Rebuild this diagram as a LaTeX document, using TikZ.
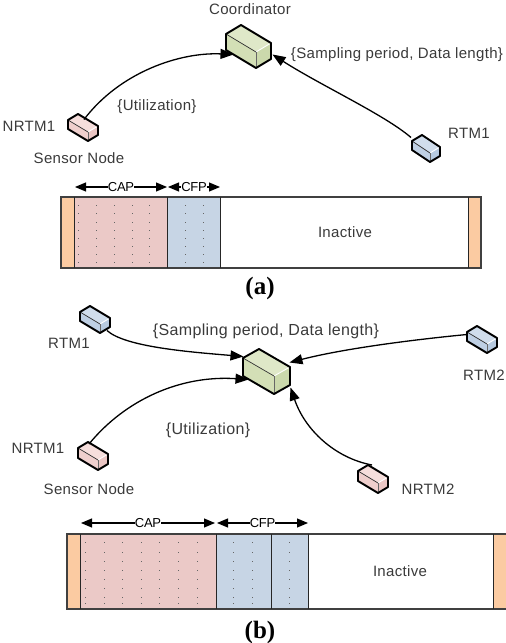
\documentclass[tikz,border=0pt]{standalone}
\usepackage{fontspec}
\setmainfont{Liberation Sans}
\newfontfamily\capfont{Liberation Serif}
\newfontfamily\wideface[LetterSpace=2.2]{Liberation Sans}
\newfontfamily\tightface[LetterSpace=-2]{Liberation Sans}
\usetikzlibrary{arrows.meta}
\definecolor{gFront}{HTML}{D3DFB6}\definecolor{gTop}{HTML}{DFE8C8}\definecolor{gSide}{HTML}{CBD9AC}
\definecolor{pFront}{HTML}{EFCFCD}\definecolor{pTop}{HTML}{F6DEDC}\definecolor{pSide}{HTML}{EBC6C4}
\definecolor{bFront}{HTML}{BFD0E4}\definecolor{bTop}{HTML}{D0DDEC}\definecolor{bSide}{HTML}{B7CAE0}
\definecolor{slotOrange}{HTML}{FBCBA2}\definecolor{slotPink}{HTML}{EBC9C7}\definecolor{slotBlue}{HTML}{C7D5E5}
\definecolor{txt}{HTML}{3A3A3A}
% \devbox{name}{colour prefix}{Fx}{Fy}{Lx dist}{Ly dist}{Rx dist}{Ry dist}{height}
\newcommand{\devbox}[9]{%
  \path[fill=#2Top] (#3,#4) -- ++(-#5,-#6) -- ++(#7,-#8) -- ++(#5,#6) -- cycle;
  \path[fill=#2Front] (#3,#4) -- ++(-#5,-#6) -- ++(0,#9) -- ++(#5,#6) -- cycle;
  \path[fill=#2Side] (#3,#4) -- ++(#7,-#8) -- ++(0,#9) -- ++(-#7,#8) -- cycle;
  \draw[white,line width=.9] (#3,#4) -- ++(#7,-#8);
  \draw[black!80,line width=.7] (#3,#4) -- ++(-#5,-#6);
  \draw[black!60,line width=.6] (#3,#4) -- ++(0,#9);
  \draw[black,line width=1.9,line join=round] (#3,#4) ++(-#5,-#6) -- ++(#7,-#8) -- ++(#5,#6) -- ++(0,#9) -- ++(-#7,#8) -- ++(-#5,-#6) -- cycle;
  \node[inner sep=0,minimum width={(#5+#7)*1pt},minimum height={(#6+#8+#9)*1pt}] (#1) at ({#3+(#7-#5)/2},{#4+(#9-#6-#8)/2}) {};
}
\newcommand{\dotgrid}[2]{\foreach \xx in {#1}{\foreach \yy in {#2}{\fill[black!60] (\xx-.5,\yy-.5) rectangle (\xx+.5,\yy+.5);}}}
\tikzset{
  lbl/.style={font=\wideface\fontsize{15}{17}\selectfont,text=txt,inner sep=0},
  lblbig/.style={lbl,font=\wideface\fontsize{16}{18}\selectfont},
  figcap/.style={font=\capfont\bfseries\fontsize{25}{27}\selectfont,inner sep=0},
  link/.style={black,line width=1.3,-{Triangle[length=13pt,width=10pt]}},
  spanline/.style={black,line width=1.1,{Triangle[length=11pt,width=9pt]}-{Triangle[length=11pt,width=9pt]}},
  spanlbl/.style={font=\tightface\fontsize{13}{14}\selectfont,text=black,fill=white,inner xsep=0pt,inner ysep=0},
  outline/.style={draw=black!75,line width=1.1},
  slotline/.style={draw=black!85,line width=1}
}
\begin{document}
\begin{tikzpicture}[x=1pt,y=-1pt]
\useasboundingbox (0,0) rectangle (506,643);
% ---------- (a)
\devbox{cA}{g}{256}{52}{30}{18}{15}{9}{16}
\devbox{nA}{p}{88}{132}{20}{12}{10}{6}{9}
\devbox{rA}{b}{430}{153}{18}{12}{10}{6}{9}
\draw[link] ([shift={(1,-8)}]nA.center) .. controls (120,72) and (180,52) .. ([shift={(-15,8)}]cA.center);
\draw[link] ([shift={(-15,-11)}]rA.center) .. controls (385,115) and (320,85) .. ([shift={(24,8)}]cA.center);
\node[lbl] (tCoordA) at (250,9) {Coordinator};
\node[lbl] (tSamplA) at (397,55) {\{Sampling period, Data length\}};
\node[lbl] (tUtilA) at (157,107) {\{Utilization\}};
\node[lbl] (tNA) at (29,126) {NRTM1};
\node[lbl] (tSensA) at (79,158) {Sensor Node};
\node[lbl] (tRA) at (469,133) {RTM1};
% frame a
\fill[slotOrange] (61,197) rectangle (74,268);
\fill[slotOrange] (468,197) rectangle (481,268);
\fill[slotPink] (74,197) rectangle (167,268);
\fill[slotBlue] (167,197) rectangle (220,268);
\dotgrid{78,96,114,132,149,185,203}{197,205,213,222,230,238,246,254,262}
\draw[outline] (61,197) rectangle (481,268);
\draw[slotline] (74,197) -- (74,268) (167,197) -- (167,268) (220,197) -- (220,268) (468,197) -- (468,268);
\node[lbl] (tInA) at (345,232) {Inactive};
\coordinate (caL) at (75,187); \coordinate (caR) at (167,187); \coordinate (cfL) at (168,187); \coordinate (cfR) at (220,187);
\draw[spanline] (caL) -- (caR) node[midway,spanlbl] (tCapA) {CAP};
\draw[spanline] (cfL) -- (cfR) node[midway,spanlbl] (tCfpA) {CFP};
\node[figcap] (capA) at (260,288) {(a)};
% ---------- (b)
\devbox{cB}{g}{274}{376}{31}{18}{16}{9}{18}
\devbox{rB1}{b}{100}{324}{20}{12}{10}{6}{9}
\devbox{rB2}{b}{487}{344}{20}{12}{10}{6}{9}
\devbox{nB1}{p}{98}{460}{20}{12}{10}{6}{10}
\devbox{nB2}{p}{378}{483}{20}{12}{10}{6}{10}
\draw[link] ([shift={(12,11)}]rB1.center) .. controls (125,347) and (190,352) .. ([shift={(-23,-15)}]cB.center);
\draw[link] ([shift={(-15,-5)}]rB2.center) .. controls (430,338) and (350,347) .. ([shift={(23,-9)}]cB.center);
\draw[link] ([shift={(-4,-12)}]nB1.center) .. controls (125,400) and (180,375) .. ([shift={(-18,8)}]cB.center);
\draw[link] ([shift={(-1,-14)}]nB2.center) .. controls (335,458) and (305,430) .. ([shift={(24,16)}]cB.center);
\node[lblbig] (tSamplB) at (266,331) {\{Sampling period, Data length\}};
\node[lblbig] (tUtilB) at (208,430) {\{Utilization\}};
\node[lbl] (tRB1) at (69,343) {RTM1};
\node[lbl] (tRB2) at (484,375) {RTM2};
\node[lbl] (tNB1) at (38,448) {NRTM1};
\node[lbl] (tSensB) at (89,489) {Sensor Node};
\node[lbl] (tNB2) at (428,489) {NRTM2};
% frame b
\fill[slotOrange] (67,534) rectangle (80,609);
\fill[slotOrange] (493,534) rectangle (506,609);
\fill[slotPink] (80,534) rectangle (216,609);
\fill[slotBlue] (216,534) rectangle (308,609);
\dotgrid{85,104,122,141,159,178,197,233,252,289}{542,552,561,570,579,588,597,603}
\draw[outline] (506,534) -- (67,534) -- (67,609) -- (506,609);
\draw[slotline] (80,534) -- (80,609) (216,534) -- (216,609) (271,534) -- (271,609) (308,534) -- (308,609) (493,534) -- (493,609);
\node[lbl] (tInB) at (400,571) {Inactive};
\coordinate (cbL) at (81,523); \coordinate (cbR) at (215,523); \coordinate (dbL) at (217,523); \coordinate (dbR) at (308,523);
\draw[spanline] (cbL) -- (cbR) node[pos=.5,spanlbl] (tCapB) {CAP};
\draw[spanline] (dbL) -- (dbR) node[pos=.5,spanlbl] (tCfpB) {CFP};
\node[figcap] (capB) at (260,632) {(b)};
\end{tikzpicture}
\end{document}
